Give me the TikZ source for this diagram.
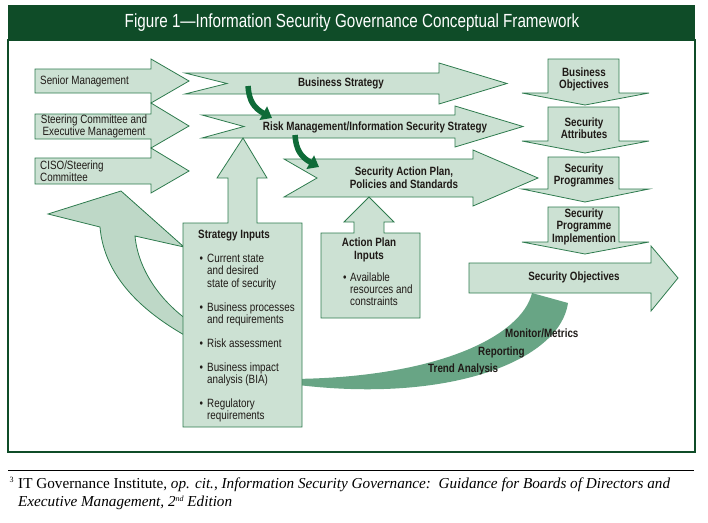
\documentclass[tikz,border=0pt]{standalone}
\usepackage{fontspec}
\setmainfont{Liberation Sans}[FakeStretch=0.82]
\newfontfamily\titlefont{Liberation Sans}[FakeStretch=0.80]
\newfontfamily\notefont{Liberation Serif}
\usetikzlibrary{arrows.meta}
\definecolor{dkgreen}{HTML}{0F4C28}
\definecolor{shapefill}{HTML}{CCE1D3}
\definecolor{leftfill}{HTML}{BED8C7}
\definecolor{outline}{HTML}{2E7B4E}
\definecolor{bandgreen}{HTML}{68A585}
\definecolor{arrowgreen}{HTML}{0E6B38}
\definecolor{txt}{HTML}{1F1A17}
\tikzset{
  shp/.style={fill=shapefill, draw=outline, line width=0.8pt, line join=miter},
  lbl/.style={text=txt, font=\fontsize{12}{12.5}\selectfont, inner sep=0pt},
  blbl/.style={text=txt, font=\fontsize{12}{12.5}\selectfont\bfseries, inner sep=0pt, align=center},
  bandlbl/.style={text=txt, font=\fontsize{12}{12.5}\selectfont\bfseries, inner sep=0pt},
  smallarrow/.style={draw=arrowgreen, line width=5.5pt, -{Triangle[length=10pt,width=15pt]}},
  note/.style={anchor=base west, inner sep=0pt, font=\notefont\fontsize{15.2}{15.2}\selectfont},
}
\begin{document}
\begin{tikzpicture}[x=1pt,y=-1pt]
\useasboundingbox (0,0) rectangle (708,522);
% frame and title
\fill[dkgreen] (8,5) rectangle (695,40);
\draw[dkgreen, line width=1.2pt] (8,40) rectangle (695,452);
\node[text=white, font=\titlefont\fontsize{19}{20}\selectfont, inner sep=0pt] (title) at (352,22.5) {Figure 1—Information Security Governance Conceptual Framework};

% left curved feedback arrow
\filldraw[fill=leftfill, draw=outline, line width=0.8pt] (184,247) -- (135,236)
  .. controls (138,268) and (158,298) .. (186,319) -- (186,336)
  .. controls (140,310) and (104,275) .. (100,227) -- (48,214) -- (121,191) -- cycle;

% bottom band (monitoring)
\fill[bandgreen] (532,293) .. controls (522,335) and (440,378) .. (290,379)
  -- (290,384) .. controls (450,405) and (560,360) .. (568,303) -- cycle;

% left input arrows
\path[shp] (35,69) -- (151,69) -- (151,59) -- (189,81) -- (151,103) -- (151,93) -- (35,93) -- cycle;
\path[shp] (35,114) -- (151,114) -- (151,103) -- (189,126) -- (151,148) -- (151,139) -- (35,139) -- cycle;
\path[shp] (35,158) -- (151,158) -- (151,148) -- (189,171) -- (151,193) -- (151,184) -- (35,184) -- cycle;
\node[lbl, anchor=west] (senior) at (40,81.5) {Senior Management};
\node[lbl, align=center] (steering) at (94,126.5) {Steering Committee and\\Executive Management};
\node[lbl, align=left, anchor=west] (ciso) at (40,171) {CISO/Steering\\Committee};

% strategy arrows
\path[shp] (185,73) -- (439,73) -- (439,63) -- (507,83.5) -- (439,104) -- (439,94) -- (185,94) -- (227,83.5) -- cycle;
\path[shp] (202,115) -- (455,115) -- (455,106) -- (523,126.5) -- (455,147) -- (455,138) -- (202,138) -- (244,126.5) -- cycle;
\path[shp] (284,159) -- (473,159) -- (473,150) -- (538,178) -- (473,206) -- (473,197) -- (284,197) -- (317,178) -- cycle;
\node[blbl] (bstrat) at (341,83.5) {Business Strategy};
\node[blbl] (riskstrat) at (375,127) {Risk Management/Information Security Strategy};
\node[blbl] (actionplan) at (404,177.5) {Security Action Plan,\\Policies and Standards};

% small green connectors
\coordinate (c1s) at (248,86);
\coordinate (c1e) at (272,118);
\coordinate (c2s) at (295,135);
\coordinate (c2e) at (319,167);
\draw[smallarrow] (c1s) .. controls (249,101) and (254,108) .. (c1e);
\draw[smallarrow] (c2s) .. controls (296,150) and (301,157) .. (c2e);

% right column down arrows
\foreach \t/\b/\p in {59/93/105, 107/141/153, 157/189/202, 207/242/254}{
  \path[shp] (548,\t) -- (619,\t) -- (619,\b) -- (649,\b) -- (585,\p) -- (522,\b) -- (548,\b) -- cycle;
}
\node[blbl] (bobj) at (584,79.5) {Business\\Objectives};
\node[blbl] (sattr) at (584,128) {Security\\Attributes};
\node[blbl] (sprog) at (584,175.5) {Security\\Programmes};
\node[blbl] (simpl) at (584,226.5) {Security\\Programme\\Implemention};

% security objectives arrow
\path[shp] (469,263) -- (651,263) -- (651,246) -- (678,278) -- (651,311) -- (651,293) -- (469,293) -- cycle;
\node[blbl] (sobj) at (574,277.5) {Security Objectives};

% strategy inputs box with up arrow
\path[shp] (183,427) -- (183,223) -- (228,223) -- (228,178) -- (217,178) -- (243,138) -- (267,178) -- (257,178) -- (257,223) -- (302,223) -- (302,427) -- cycle;
\node[bandlbl, anchor=base west] (sihead) at (198,238.5) {Strategy Inputs};
\foreach \n/\y/\s/\txt in {b1/262.5/1/Current state, b1b/274.8/0/and desired, b1c/287.1/0/state of security,
  b2/311/1/Business processes, b2b/323.3/0/and requirements,
  b3/347/1/Risk assessment,
  b4/371/1/Business impact, b4b/383.3/0/analysis (BIA),
  b5/407/1/Regulatory, b5b/419.3/0/requirements}{
  \node[lbl, anchor=base west] (si\n) at (207,\y) {\txt};
  \ifnum\s=1 \node[lbl, anchor=base west] (sibul\n) at (199.5,\y) {\textbullet};\fi
}

% action plan inputs box with up arrow
\path[shp] (321,318) -- (321,233) -- (354,233) -- (354,222) -- (344,222) -- (369,197) -- (394,222) -- (384,222) -- (384,233) -- (420,233) -- (420,318) -- cycle;
\node[blbl] (apin) at (369,250) {Action Plan\\Inputs};
\node[lbl, anchor=base west] (apbul) at (343,281) {\textbullet};
\node[lbl, anchor=base west] (ap1) at (350,281) {Available};
\node[lbl, anchor=base west] (ap2) at (350,293.3) {resources and};
\node[lbl, anchor=base west] (ap3) at (350,305.6) {constraints};

% band labels
\node[bandlbl, anchor=base west] (mon) at (505,337) {Monitor/Metrics};
\node[bandlbl, anchor=base west] (rep) at (478,355) {Reporting};
\node[bandlbl, anchor=base west] (trend) at (428,372) {Trend Analysis};

% footnote
\draw[black, line width=1pt] (8,470) -- (694,470);
\node[note] (fn0) at (9.5,482.5) {\fontsize{8}{8}\selectfont 3};
\node[note] (fn1) at (18,488)
  {IT Governance Institute, \textit{op. cit.}, \textit{Information Security Governance:\ \ Guidance for Boards of Directors and}};
\node[note] (fn2) at (18,506)
  {\textit{Executive Management, 2\raisebox{5pt}{\fontsize{8}{8}\selectfont nd} Edition}};
\end{tikzpicture}
\end{document}
